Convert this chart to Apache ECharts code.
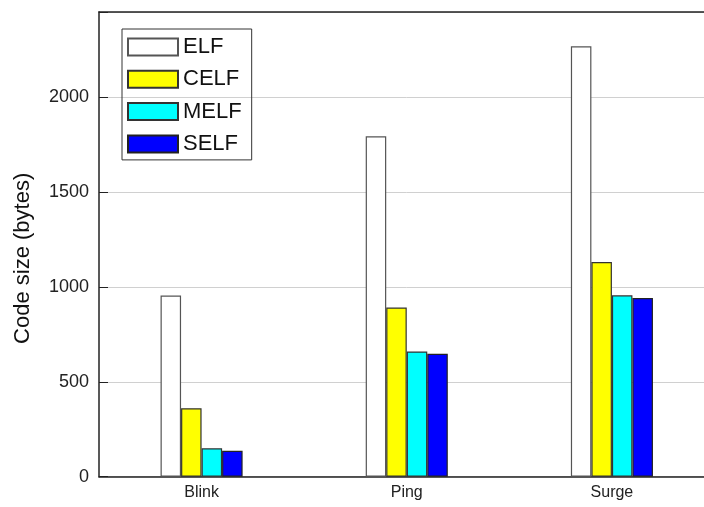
<!DOCTYPE html>
<html><head><meta charset="utf-8">
<script src="https://cdn.jsdelivr.net/npm/echarts@6/dist/echarts.min.js"></script>
<style>html,body{margin:0;padding:0;background:#fff;overflow:hidden}#c{width:716px;height:507px}</style>
</head><body><div id="c"></div>
<script>
const categories = ['Blink', 'Ping', 'Surge'];
const elf  = [955, 1795, 2269];
const celf = [361, 892, 1132];
const melf = [150, 660, 956];
const self_ = [137, 648, 942];
const yTicks = [0, 500, 1000, 1500, 2000];

const FONT = 'Liberation Sans, Arial, sans-serif';
const chart = echarts.init(document.getElementById('c'), null, {renderer: 'canvas'});
function s(name, data, color, border) {
  return {name, type: 'bar', data, barGap: '0%', barCategoryGap: '60%',
    itemStyle: {color, borderColor: border, borderWidth: 1.2}};
}
chart.setOption({
  animation: false,
  backgroundColor: '#fff',
  grid: {left: 99, top: 12, right: 1.5, bottom: 30.3, containLabel: false},
  legend: {
    orient: 'vertical', left: 122, top: 29,
    icon: 'rect',
    itemWidth: 50, itemHeight: 17, itemGap: 10.3,
    padding: [7, 10, 5, 5],
    borderColor: '#333', borderWidth: 1,
    textStyle: {fontFamily: FONT, fontSize: 22, color: '#111'},
    data: ['ELF', 'CELF', 'MELF', 'SELF']
  },
  xAxis: [{
    type: 'category', data: categories,
    axisLine: {lineStyle: {color: '#222', width: 1.5}},
    axisTick: {inside: true, alignWithLabel: true, length: 5, lineStyle: {color: '#222'}},
    axisLabel: {fontFamily: FONT, fontSize: 16, color: '#222', margin: 8}
  }, {
    type: 'category', data: categories, position: 'top',
    axisLine: {lineStyle: {color: '#222', width: 1.5}},
    axisTick: {inside: true, alignWithLabel: true, length: 3, lineStyle: {color: '#222'}},
    axisLabel: {show: false}
  }],
  yAxis: {
    type: 'value', min: 0, max: 2450, interval: 500,
    name: 'Code size (bytes)', nameLocation: 'middle', nameGap: 65,
    nameTextStyle: {fontFamily: FONT, fontSize: 22, color: '#111', padding: [0, 28, 0, 0]},
    axisLine: {show: true, lineStyle: {color: '#222', width: 1.5}},
    axisTick: {show: true, inside: true, length: 9, lineStyle: {color: '#222'}},
    axisLabel: {fontFamily: FONT, fontSize: 18, color: '#222', margin: 10,
      formatter: v => yTicks.includes(v) ? String(v) : ''},
    splitLine: {show: true, lineStyle: {color: '#d0d0d0', width: 1}}
  },
  series: [
    s('ELF', elf, '#ffffff', '#555'),
    s('CELF', celf, '#ffff00', '#333'),
    s('MELF', melf, '#00ffff', '#333'),
    s('SELF', self_, '#0000ff', '#222')
  ]
});
</script></body></html>
